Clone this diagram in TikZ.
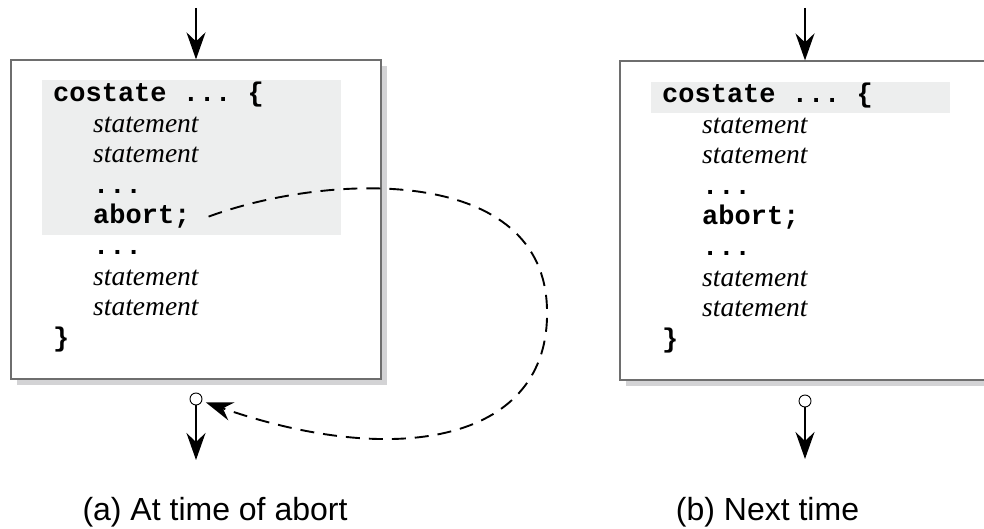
\documentclass[tikz,border=0pt]{standalone}
\usepackage{fontspec}
\setmainfont{Liberation Serif}
\setsansfont{Liberation Sans}
\setmonofont{Liberation Mono}
\usetikzlibrary{arrows.meta,shadows}
\definecolor{boxline}{HTML}{6E6E6E}
\definecolor{shadowgray}{HTML}{D3D3D5}
\definecolor{codebg}{HTML}{EDEEEE}
\tikzset{
	panel/.style={draw=boxline, line width=1.2pt, fill=white, inner sep=0pt,
		minimum width=370pt, minimum height=319pt,
		drop shadow={shadow xshift=6pt, shadow yshift=-6pt, fill=shadowgray, opacity=1}},
	code/.style={anchor=base west, inner sep=0pt, font=\ttfamily\bfseries\fontsize{27}{30}\selectfont},
	stmt/.style={anchor=base west, inner sep=0pt, font=\itshape\fontsize{27.5}{30}\selectfont},
	outlet/.style={circle, draw, fill=white, line width=0.9pt, inner sep=0pt, minimum size=12pt},
	flow/.style={line width=2.2pt, -{Stealth[length=27pt, width=19pt, inset=9pt]}},
	dashflow/.style={line width=1.9pt, dash pattern=on 14pt off 9pt, -{Stealth[length=27pt, width=19pt, inset=9pt]}},
	caption/.style={font=\sffamily\fontsize{32}{36}\selectfont, anchor=base}
}

\begin{document}
\begin{tikzpicture}[x=1pt, y=-1pt]
		%%%%% START %%%%%
		\useasboundingbox (0, 0) rectangle (984, 529);
		\clip (0, 0) rectangle (984, 529);
		
		%%%%% (a) at time of abort %%%%%
		\node[panel] (boxL) at (196, 219.5) {};
		\fill[codebg] (42, 80) rectangle (341, 235);
		\node[code] (costateL) at (53, 102) {costate ... \{};
		\node[stmt] (stmtLa) at (93, 132.5) {statement};
		\node[stmt] (stmtLb) at (93, 163) {statement};
		\node[code] (dotsLa) at (93, 193.5) {...};
		\node[code] (abortL) at (93, 224) {abort;};
		\node[code] (dotsLb) at (93, 254.5) {...};
		\node[stmt] (stmtLc) at (93, 285) {statement};
		\node[stmt] (stmtLd) at (93, 315.5) {statement};
		\node[code] (closeL) at (53, 346) {\}};
		
		\coordinate (inL) at (196, 8);
		\draw[flow] (inL) -- (boxL.north);
		\node[outlet] (outL) at (196, 399) {};
		\coordinate (endL) at (196, 460);
		\draw[flow] (outL) -- (endL);
		
		\coordinate (loopR) at (547, 310);
		\draw[dashflow, shorten >=4pt] ([xshift=18pt]abortL.east) .. controls (330, 172) and (545, 165) .. (loopR)
			.. controls (550, 440) and (400, 470) .. (outL);
		
		\node[caption] (capL) at (215, 520) {(a) At time of abort};
		
		%%%%% (b) next time %%%%%
		\node[panel] (boxR) at (805, 220.5) {};
		\fill[codebg] (651, 82) rectangle (950, 113);
		\node[code] (costateR) at (662, 103) {costate ... \{};
		\node[stmt] (stmtRa) at (702, 133.5) {statement};
		\node[stmt] (stmtRb) at (702, 164) {statement};
		\node[code] (dotsRa) at (702, 194.5) {...};
		\node[code] (abortR) at (702, 225) {abort;};
		\node[code] (dotsRb) at (702, 255.5) {...};
		\node[stmt] (stmtRc) at (702, 286) {statement};
		\node[stmt] (stmtRd) at (702, 316.5) {statement};
		\node[code] (closeR) at (662, 347) {\}};
		
		\coordinate (inR) at (805, 8);
		\draw[flow] (inR) -- (boxR.north);
		\node[outlet] (outR) at (805, 401) {};
		\coordinate (endR) at (805, 459);
		\draw[flow] (outR) -- (endR);
		
		\node[caption] (capR) at (767.5, 520) {(b) Next time};
		%%%%% END %%%%%
\end{tikzpicture}
\end{document}
